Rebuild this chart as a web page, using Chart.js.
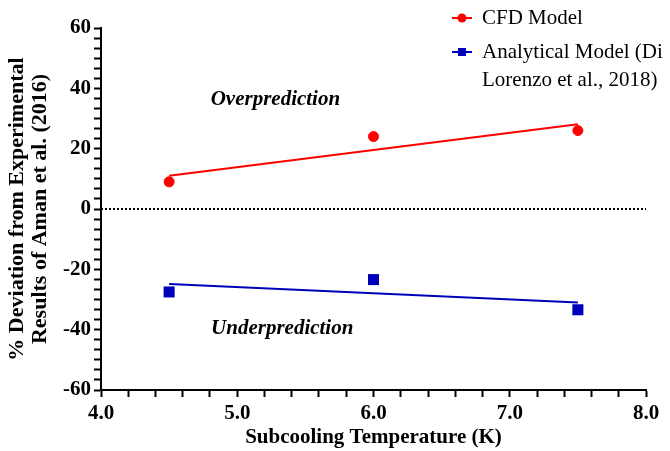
<!DOCTYPE html>
<html>
<head>
<meta charset="utf-8">
<script src="https://cdn.jsdelivr.net/npm/chart.js@4/dist/chart.umd.min.js"></script>
<style>
    html, body { margin: 0; padding: 0; background: #fff; }
    canvas { display: block; }
</style>
</head>
<body>
<canvas id="deviationChart" width="670" height="451"></canvas>
<script>
// -------------------------------------------------------------------------- Data

const subcooling = [4.5, 6.0, 7.5]
const cfdDeviation = [9, 24, 26]
const analyticalDeviation = [-27.5, -23.4, -33.4]

// trend lines, end points only
const fitX = [4.5, 7.5]
const cfdFit = [11.0, 28.1]
const analyticalFit = [-24.9, -31.0]

const zeroX = [4, 8]
const zeroY = [0, 0]

const xTickLabels = [4, 5, 6, 7, 8]
const yTickLabels = [-60, -40, -20, 0, 20, 40, 60]

const seriesNames = ['CFD Model', ['Analytical Model (Di', 'Lorenzo et al., 2018)']]
const regionNames = ['Overprediction', 'Underprediction']

// -------------------------------------------------------------------------- Style

const red = '#ff0000'
const blue = '#0000bb'
const serif = '"Liberation Serif", "Times New Roman", serif'

const toPoints = (xs, ys) => xs.map((x, i) => ({ x: x, y: ys[i] }))

// major ticks plus evenly spaced minor ticks in between
const withMinor = (majors, parts) => {
    let out = []
    for (let i = 0; i < majors.length - 1; i++) {
        for (let j = 0; j < parts; j++) {
            out.push(majors[i] + (majors[i + 1] - majors[i]) * j / parts)
        }
    }
    out.push(majors[majors.length - 1])
    return out
}

const isMajor = (majors, v) => majors.some(m => Math.abs(m - v) < 1e-6)

// -------------------------------------------------------------------------- Plugins

// region captions inside the plot
const regionText = {
    id: 'regionText',
    afterDatasetsDraw(chart) {
        const { ctx, scales: { x, y } } = chart
        const spots = [[5.28, 36.3], [5.33, -39.6]]
        ctx.save()
        ctx.font = 'italic bold 21px ' + serif
        ctx.fillStyle = '#000'
        ctx.textAlign = 'center'
        ctx.textBaseline = 'middle'
        regionNames.forEach((t, i) => {
            ctx.fillText(t, x.getPixelForValue(spots[i][0]), y.getPixelForValue(spots[i][1]))
        })
        ctx.restore()
    }
}

// legend in the top right corner, wrapping the long label
const cornerLegend = {
    id: 'cornerLegend',
    afterDraw(chart) {
        const ctx = chart.ctx
        const rows = [18, 52]
        ctx.save()
        ctx.font = '21px ' + serif
        ctx.textBaseline = 'middle'
        ctx.textAlign = 'left'
        ;[0, 2].forEach((d, i) => {
            const ds = chart.data.datasets[d]
            const y = rows[i]
            ctx.strokeStyle = ds.backgroundColor
            ctx.lineWidth = 2
            ctx.beginPath()
            ctx.moveTo(452, y)
            ctx.lineTo(472, y)
            ctx.stroke()
            ctx.fillStyle = ds.backgroundColor
            if (ds.pointStyle === 'rect') {
                ctx.fillRect(458, y - 4, 8, 8)
            } else {
                ctx.beginPath()
                ctx.arc(462, y, 4.5, 0, Math.PI * 2)
                ctx.fill()
            }
            ctx.fillStyle = '#000'
            const lines = [].concat(seriesNames[i])
            lines.forEach((t, k) => ctx.fillText(t, 482, y + k * 28))
        })
        ctx.restore()
    }
}

// -------------------------------------------------------------------------- Chart Config

const dataDeviation = {
    datasets: [{
        label: 'CFD Model',
        data: toPoints(subcooling, cfdDeviation),
        backgroundColor: red,
        borderColor: red,
        pointStyle: 'circle',
        pointRadius: 5,
        showLine: false
    }, {
        label: 'CFD fit',
        data: toPoints(fitX, cfdFit),
        borderColor: red,
        borderWidth: 2,
        pointRadius: 0,
        showLine: true
    }, {
        label: 'Analytical Model (Di Lorenzo et al., 2018)',
        data: toPoints(subcooling, analyticalDeviation),
        backgroundColor: blue,
        borderColor: blue,
        pointStyle: 'rect',
        pointRadius: 7.8,
        pointBorderWidth: 0,
        showLine: false
    }, {
        label: 'Analytical fit',
        data: toPoints(fitX, analyticalFit),
        borderColor: blue,
        borderWidth: 2,
        pointRadius: 0,
        showLine: true
    }, {
        label: 'zero',
        data: toPoints(zeroX, zeroY),
        borderColor: '#000',
        borderWidth: 2,
        borderDash: [2, 2],
        pointRadius: 0,
        showLine: true
    }]
}

const tickGrid = {
    display: true,
    drawOnChartArea: false,
    drawTicks: true,
    tickLength: 7,
    tickWidth: 2,
    tickColor: '#000'
}

const configDeviation = {
    type: 'scatter',
    data: dataDeviation,
    options: {
        responsive: false,
        animation: false,
        layout: {
            padding: { top: 28, right: 24, left: 0, bottom: 0 }
        },
        plugins: {
            legend: { display: false },
            tooltip: { enabled: false }
        },
        scales: {
            x: {
                type: 'linear',
                min: 4,
                max: 8,
                afterBuildTicks: s => { s.ticks = withMinor(xTickLabels, 5).map(v => ({ value: v })) },
                afterFit: s => { s.height = 61 },
                grid: tickGrid,
                border: { display: true, color: '#000', width: 2 },
                ticks: {
                    autoSkip: false,
                    maxRotation: 0,
                    minRotation: 0,
                    padding: 4,
                    color: '#000',
                    font: { family: serif, size: 21, weight: 'bold' },
                    callback: v => isMajor(xTickLabels, v) ? v.toFixed(1) : ''
                },
                title: {
                    display: true,
                    text: 'Subcooling Temperature (K)',
                    color: '#000',
                    font: { family: serif, size: 21, weight: 'bold' },
                    padding: { top: 0, bottom: 1 }
                }
            },
            y: {
                type: 'linear',
                min: -60,
                max: 60,
                afterBuildTicks: s => { s.ticks = withMinor(yTickLabels, 6).map(v => ({ value: v })) },
                afterFit: s => { s.width = 101 },
                grid: tickGrid,
                border: { display: true, color: '#000', width: 2 },
                ticks: {
                    autoSkip: false,
                    padding: 3,
                    color: '#000',
                    font: { family: serif, size: 21, weight: 'bold' },
                    callback: v => isMajor(yTickLabels, v) ? Math.round(v) : ''
                },
                title: {
                    display: true,
                    text: ['% Deviation from Experimental', 'Results of Aman et al. (2016)'],
                    color: '#000',
                    font: { family: serif, size: 22, weight: 'bold', lineHeight: 1.05 },
                    padding: { top: 6, bottom: 0 }
                }
            }
        }
    },
    plugins: [regionText, cornerLegend]
}

// -------------------------------------------------------------------------- Render Chart

let deviationChart = new Chart(
    document.getElementById('deviationChart'),
    configDeviation
)
</script>
</body>
</html>
